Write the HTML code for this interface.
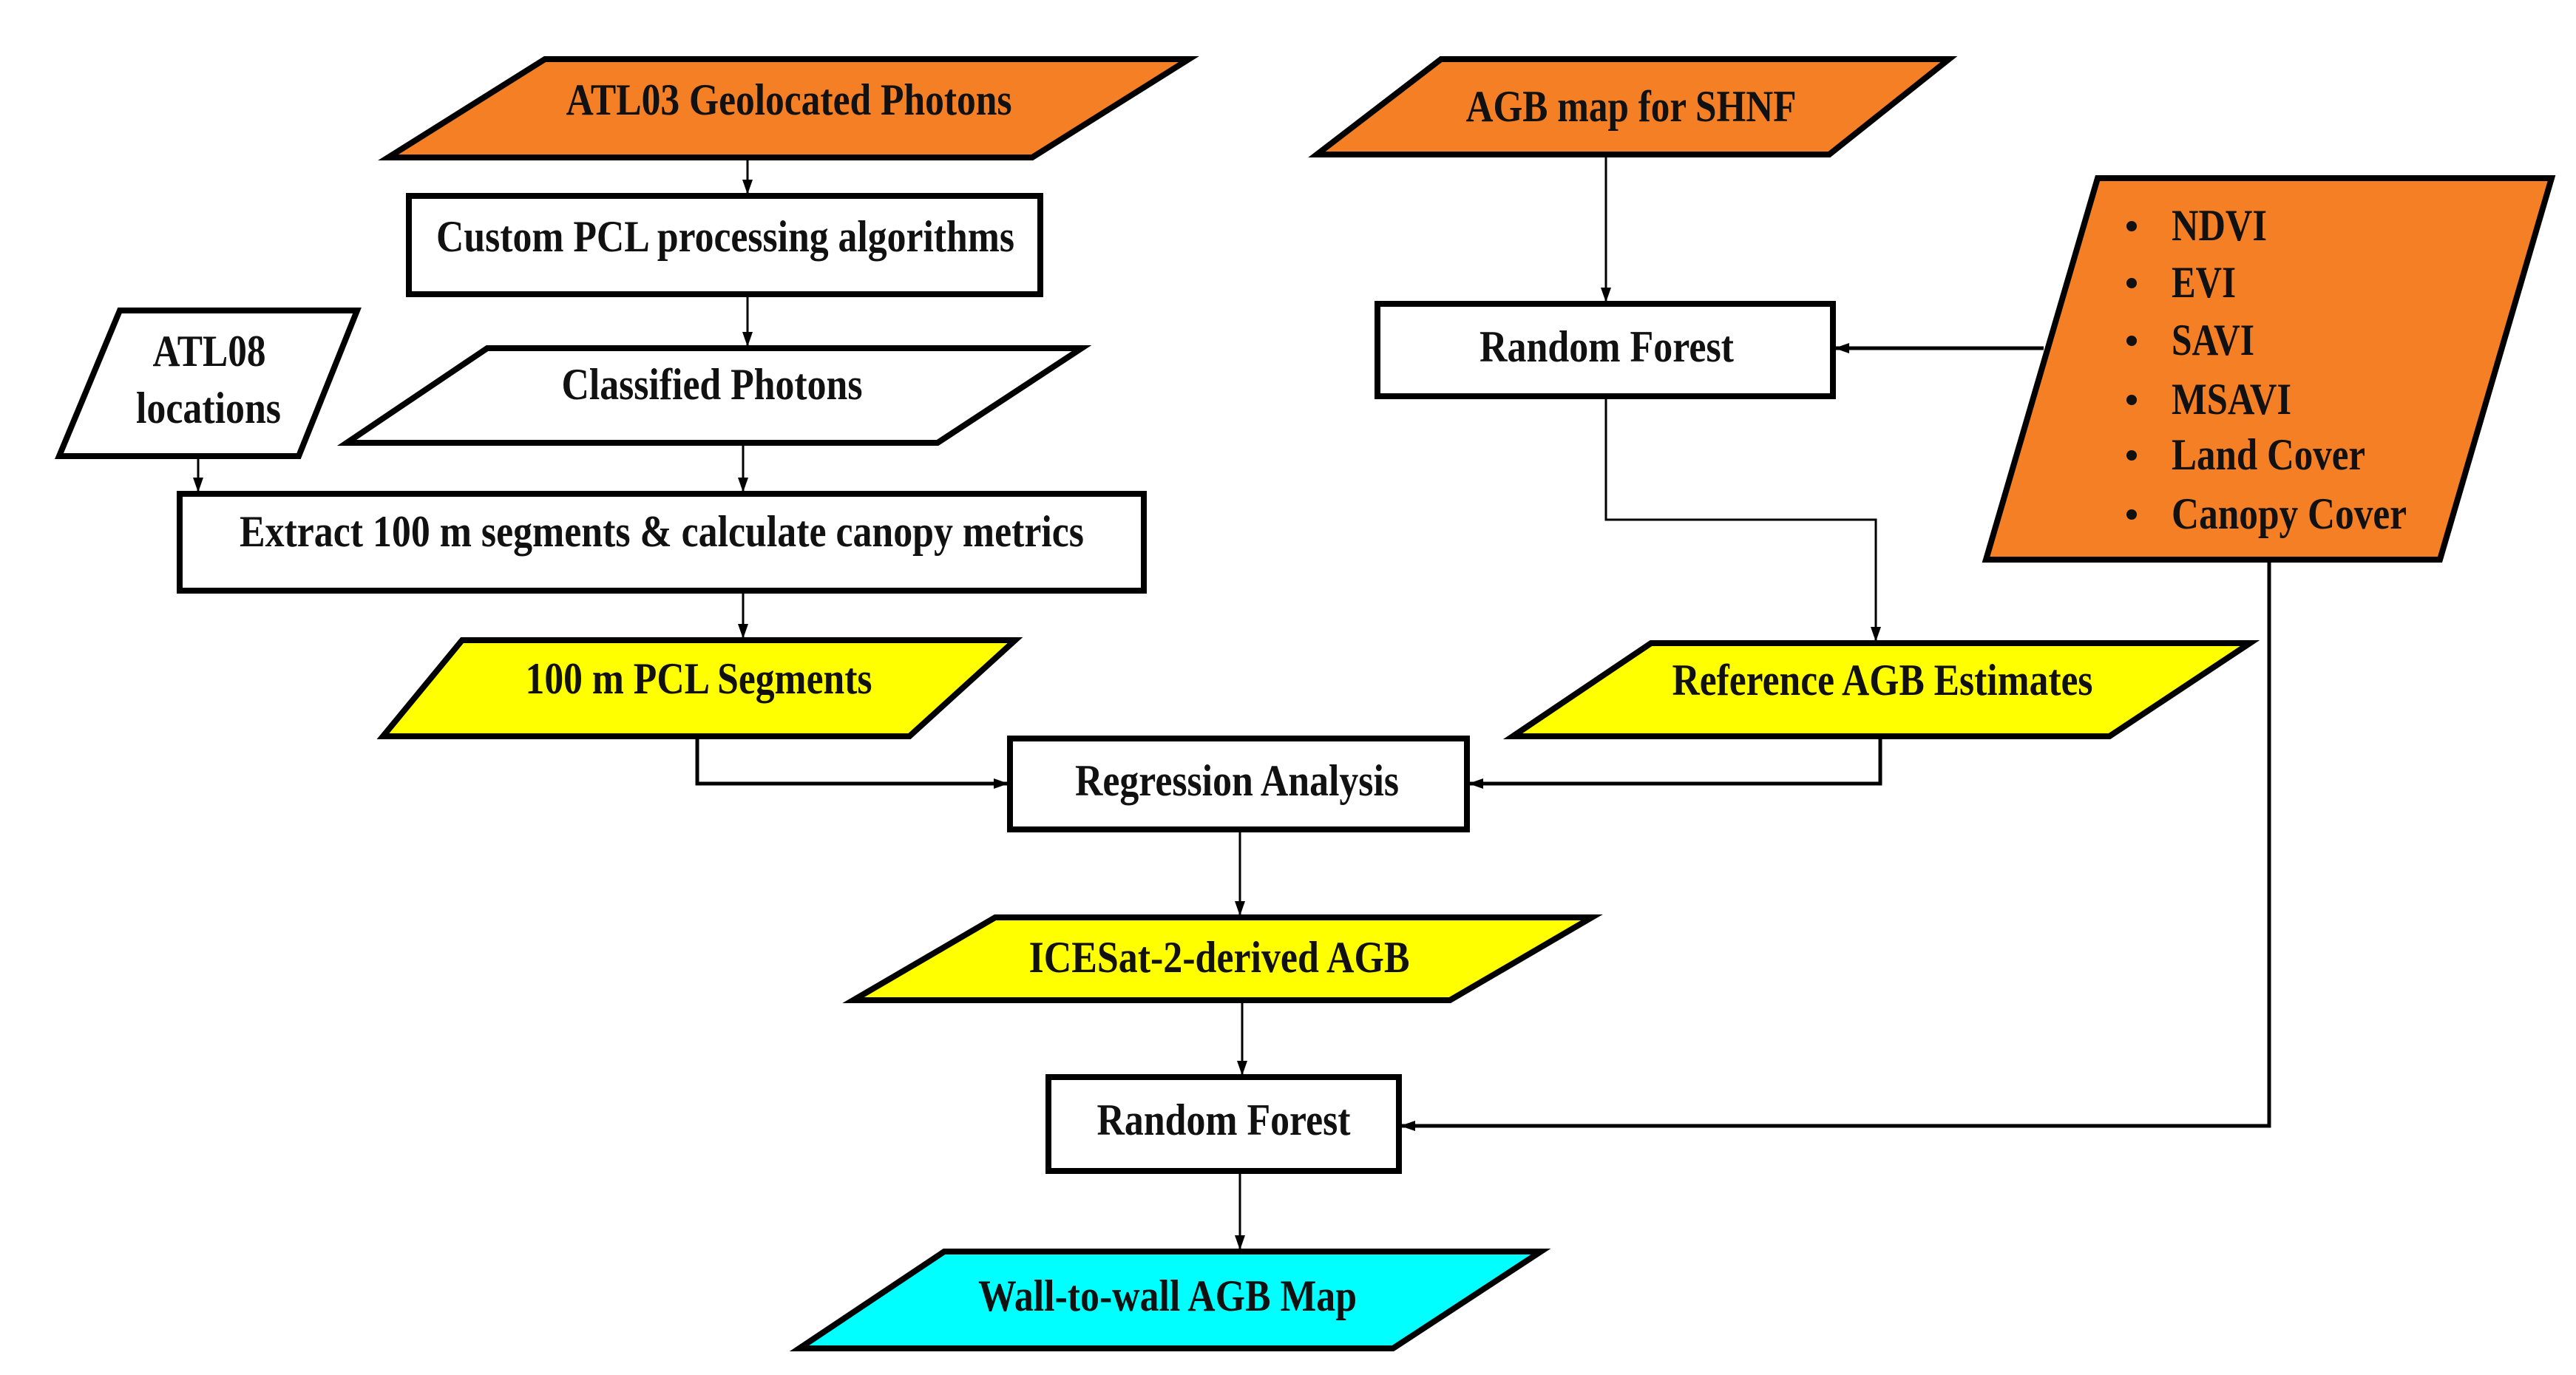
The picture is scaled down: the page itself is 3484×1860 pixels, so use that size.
<!DOCTYPE html>
<html><head><meta charset="utf-8"><style>html,body{margin:0;padding:0;background:#fff}svg{display:block}</style></head>
<body>
<svg width="3484" height="1860" viewBox="0 0 3484 1860" xmlns="http://www.w3.org/2000/svg">
<defs>
<marker id="a" markerWidth="10" markerHeight="10" refX="9" refY="5" orient="auto" markerUnits="userSpaceOnUse" viewBox="0 0 10 10">
<path d="M0,0 L10,5 L0,10 z" fill="#000"/></marker>
<marker id="b" markerWidth="20" markerHeight="20" refX="18" refY="10" orient="auto" markerUnits="userSpaceOnUse" viewBox="0 0 20 20">
<path d="M0,3 L20,10 L0,17 z" fill="#000"/></marker>
</defs>
<rect width="3484" height="1860" fill="#fff"/>
<g stroke="#000" stroke-width="8" stroke-linejoin="miter">
<polygon points="737,80 1608,80 1396,213 525,213" fill="#f47f24"/>
<rect x="553" y="265" width="854" height="133" fill="#fff"/>
<polygon points="659,471 1463,471 1268,599 469,599" fill="#fff"/>
<polygon points="162,420 483,420 404,617 80,617" fill="#fff"/>
<rect x="243" y="668" width="1304" height="131" fill="#fff"/>
<polygon points="625,866 1373,866 1230,996 518,996" fill="#ffff00"/>
<polygon points="1949,80 2636,80 2474,209 1781,209" fill="#f47f24"/>
<rect x="1863" y="411" width="616" height="125" fill="#fff"/>
<polygon points="2837,241 3451,241 3300,757 2686,757" fill="#f47f24"/>
<polygon points="2233,870 3043,870 2853,996 2046,996" fill="#ffff00"/>
<rect x="1366" y="999" width="618" height="123" fill="#fff"/>
<polygon points="1346,1241 2153,1241 1961,1353 1154,1353" fill="#ffff00"/>
<rect x="1418" y="1457" width="474" height="127" fill="#fff"/>
<polygon points="1277,1693 2084,1693 1884,1824 1081,1824" fill="#00ffff"/>
</g>
<g stroke="#000" stroke-width="3" fill="none">
<line x1="1011" y1="217" x2="1011" y2="261" marker-end="url(#b)"/>
<line x1="1011" y1="402" x2="1011" y2="467" marker-end="url(#b)"/>
<line x1="1005" y1="603" x2="1005" y2="664" marker-end="url(#b)"/>
<line x1="268" y1="621" x2="268" y2="664" marker-end="url(#b)"/>
<line x1="1005" y1="803" x2="1005" y2="862" marker-end="url(#b)"/>
<line x1="2172" y1="213" x2="2172" y2="407" marker-end="url(#b)"/>
<polyline points="2764,471 2483,471" stroke-width="5" marker-end="url(#b)"/>
<polyline points="2172,540 2172,703 2537,703 2537,866" marker-end="url(#b)"/>
<polyline points="943,1000 943,1060 1362,1060" stroke-width="5" marker-end="url(#b)"/>
<polyline points="2543,1000 2543,1060 1988,1060" stroke-width="5" marker-end="url(#b)"/>
<line x1="1677" y1="1126" x2="1677" y2="1237" marker-end="url(#b)"/>
<line x1="1680" y1="1357" x2="1680" y2="1453" marker-end="url(#b)"/>
<polyline points="3069,761 3069,1523 1896,1523" stroke-width="5" marker-end="url(#b)"/>
<line x1="1677" y1="1588" x2="1677" y2="1689" marker-end="url(#b)"/>
</g>
<g font-family="'Liberation Serif',serif" font-weight="bold" font-size="60" fill="#111" text-anchor="middle" lengthAdjust="spacingAndGlyphs">
<text x="1067" y="155" textLength="603" lengthAdjust="spacingAndGlyphs">ATL03 Geolocated Photons</text>
<text x="981" y="340" textLength="782" lengthAdjust="spacingAndGlyphs">Custom PCL processing algorithms</text>
<text x="963" y="540" textLength="407" lengthAdjust="spacingAndGlyphs">Classified Photons</text>
<text x="283" y="495" textLength="153" lengthAdjust="spacingAndGlyphs">ATL08</text>
<text x="282" y="572" textLength="196" lengthAdjust="spacingAndGlyphs">locations</text>
<text x="895" y="739" textLength="1142" lengthAdjust="spacingAndGlyphs">Extract 100 m segments &amp; calculate canopy metrics</text>
<text x="945" y="938" textLength="469" lengthAdjust="spacingAndGlyphs">100 m PCL Segments</text>
<text x="2206" y="164" textLength="447" lengthAdjust="spacingAndGlyphs">AGB map for SHNF</text>
<text x="2173" y="489" textLength="344" lengthAdjust="spacingAndGlyphs">Random Forest</text>
<text x="2546" y="940" textLength="569" lengthAdjust="spacingAndGlyphs">Reference AGB Estimates</text>
<text x="1673" y="1076" textLength="438" lengthAdjust="spacingAndGlyphs">Regression Analysis</text>
<text x="1649" y="1315" textLength="515" lengthAdjust="spacingAndGlyphs">ICESat-2-derived AGB</text>
<text x="1655" y="1535" textLength="343" lengthAdjust="spacingAndGlyphs">Random Forest</text>
<text x="1579" y="1773" textLength="512" lengthAdjust="spacingAndGlyphs">Wall-to-wall AGB Map</text>
</g>
<g font-family="'Liberation Serif',serif" font-weight="bold" font-size="60" fill="#111">
<text x="2937" y="325" textLength="129" lengthAdjust="spacingAndGlyphs">NDVI</text>
<text x="2937" y="402" textLength="87" lengthAdjust="spacingAndGlyphs">EVI</text>
<text x="2937" y="480" textLength="112" lengthAdjust="spacingAndGlyphs">SAVI</text>
<text x="2937" y="560" textLength="162" lengthAdjust="spacingAndGlyphs">MSAVI</text>
<text x="2937" y="635" textLength="262" lengthAdjust="spacingAndGlyphs">Land Cover</text>
<text x="2937" y="715" textLength="318" lengthAdjust="spacingAndGlyphs">Canopy Cover</text>
</g>
<g fill="#111">
<circle cx="2883" cy="306" r="7"/><circle cx="2883" cy="383" r="7"/><circle cx="2883" cy="461" r="7"/>
<circle cx="2883" cy="541" r="7"/><circle cx="2883" cy="616" r="7"/><circle cx="2883" cy="696" r="7"/>
</g>
</svg>
</body></html>
